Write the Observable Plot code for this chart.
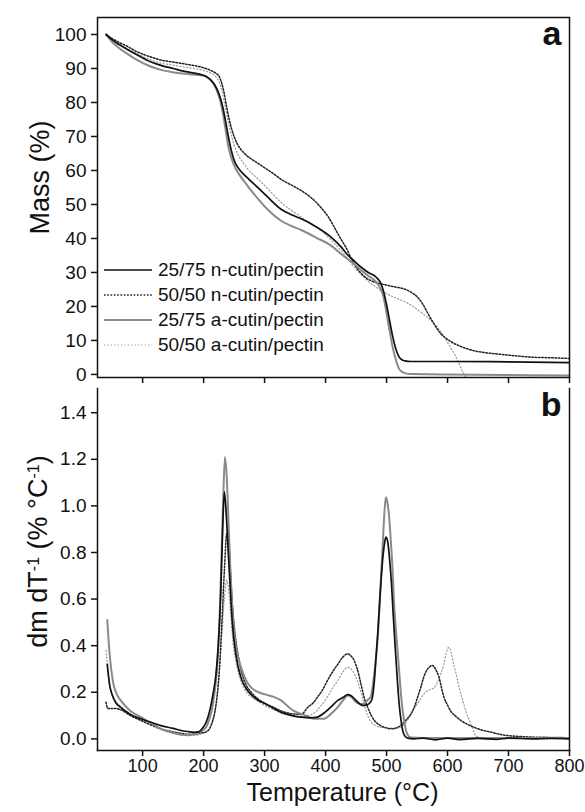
<!DOCTYPE html>
<html><head><meta charset="utf-8">
<script src="https://cdn.jsdelivr.net/npm/d3@7"></script>
<script src="https://cdn.jsdelivr.net/npm/@observablehq/plot@0.6"></script>
<style>
body{margin:0;background:#fff;}
#chart{position:relative;width:585px;height:812px;font-family:"Liberation Sans",Arial,sans-serif;color:#111;}
#top,#bottom{position:absolute;left:0;}
#top{top:0}
#bottom{top:386px}
#legend{position:absolute;left:104px;top:257px;font-size:19px;color:#111;}
#legend .row{height:25px;display:flex;align-items:center;white-space:nowrap;}
#legend .row svg{width:48px;height:10px;margin-right:6px;flex:none}
</style></head>
<body>
<div id="chart"><div id="top"></div><div id="bottom"></div><div id="legend"></div></div>
<script>
// ---- Labels & ticks ----
const seriesNames = ["25/75 n-cutin/pectin", "50/50 n-cutin/pectin", "25/75 a-cutin/pectin", "50/50 a-cutin/pectin"];
const xTicks = [100, 200, 300, 400, 500, 600, 700, 800];
const massTicks = [0, 10, 20, 30, 40, 50, 60, 70, 80, 90, 100];
const rateTicks = [0, 0.2, 0.4, 0.6, 0.8, 1.0, 1.2, 1.4];

// ---- (a) Mass (%) ----
const massT_A = [40,50,60,75,90,110,130,150,165,180,196,205,212,218,223,228,232,236,240,245,250,260,272,290,305,327,345,360,385,409,425,436,448,458,470,483,490,495,500,505,510,515,520,525,530,540,560,600,700,800];
const mass_A  = [100,98.5,97.2,95.6,94.1,92.2,90.9,90.0,89.3,88.8,88.2,87.6,86.6,85.2,83.5,81.0,78.2,74.5,70.5,66.2,63.0,60.0,57.8,54.8,52.2,48.6,46.9,45.8,43.4,40.4,37.6,35.2,33.2,31.6,30.0,28.6,27.0,24.5,20.5,15.8,11.2,7.6,5.3,4.3,4.0,3.8,3.8,3.8,3.7,3.5];

const massT_B = [40,50,60,75,90,110,130,150,170,196,212,220,226,230,234,238,242,246,250,255,262,272,285,300,315,327,345,360,375,392,405,414,422,430,436,441,448,458,468,480,492,502,515,528,540,551,560,568,578,589,600,611,625,643,662,682,710,736,770,800];
const mass_B  = [100,98.8,97.8,96.5,95.0,93.6,92.5,91.9,91.3,90.4,89.4,88.6,87.5,85.5,82.5,78.5,75.0,72.2,70.0,67.9,66.0,64.2,62.6,60.8,59.0,57.4,55.6,54.1,52.2,49.2,46.2,43.4,40.8,38.4,36.5,34.5,32.2,29.8,28.2,27.2,26.6,26.2,25.7,25.2,24.2,22.7,20.5,17.9,14.8,12.0,10.3,9.1,8.0,7.0,6.4,6.0,5.5,5.1,4.9,4.7];

const massT_C = [40,50,60,75,90,110,130,150,165,180,196,205,212,218,223,228,232,236,240,245,250,260,272,290,305,327,345,360,385,409,425,436,450,462,470,483,490,495,500,505,510,515,520,525,530,540,600,700,800];
const mass_C  = [100,97.8,96.2,94.3,92.6,90.8,89.6,88.9,88.5,88.2,88.0,87.5,86.5,85.0,83.0,80.0,76.5,72.0,67.5,64.0,61.5,58.4,55.5,51.5,48.5,45.2,43.6,42.5,40.2,37.9,35.5,34.0,32.0,30.1,29.0,27.2,25.3,22.8,18.0,12.8,8.0,4.5,1.8,0.8,0.4,0.1,0.0,-0.2,-0.3];

const massT_D = [40,50,60,75,90,110,130,150,170,196,212,220,226,230,234,238,242,246,250,256,264,272,285,300,327,360,392,425,447,469,491,505,518,532,545,560,573,585,595,603,611,618,625,632];
const mass_D  = [100,98.4,97.2,95.8,94.4,92.8,91.6,91.0,90.4,89.6,88.6,87.6,85.8,83.5,80.0,76.5,73.0,70.0,67.5,64.8,62.5,60.5,58.2,55.6,50.6,46.3,42.4,36.5,31.6,27.6,24.7,23.3,22.3,21.2,19.8,17.8,15.9,13.5,11.0,8.5,6.1,3.5,0.8,-1.5];

// ---- (b) dm/dT (% per °C) ----
const rateT_A = [42,46,50,56,64,80,97,115,130,150,163,175,184,192,198,204,210,216,220,224,228,231,234,237,240,243,247,253,261,270,278,290,302,315,327,345,360,375,385,397,408,420,430,436,442,450,456,461,466,471,476,480,483,486,489,491,494,497,499,502,505,508,511,514,518,521,524,527,530,535,545,560,580,600,620,650,680,700,740,770,800];
const rate_A  = [0.32,0.23,0.19,0.155,0.135,0.105,0.086,0.07,0.057,0.045,0.036,0.031,0.028,0.03,0.045,0.07,0.12,0.2,0.27,0.4,0.62,0.88,1.06,0.97,0.82,0.68,0.5,0.36,0.265,0.215,0.19,0.165,0.15,0.13,0.114,0.1,0.093,0.09,0.092,0.11,0.135,0.165,0.18,0.19,0.185,0.165,0.15,0.143,0.145,0.15,0.17,0.25,0.36,0.47,0.6,0.68,0.78,0.845,0.866,0.845,0.77,0.67,0.53,0.4,0.24,0.14,0.075,0.03,0.012,0.003,0.0,0.003,-0.004,0.003,-0.003,0.002,-0.002,0.003,0.0,0.002,0.0];

const rateT_B = [40,43,50,56,64,80,97,115,130,150,163,175,184,195,204,210,214,218,222,226,230,234,238,241,244,248,253,258,261,270,278,290,302,315,327,345,360,371,380,387,395,403,412,420,428,436,442,447,452,458,463,469,475,480,488,496,503,510,517,523,530,535,540,546,551,556,561,566,571,575,579,583,586,590,594,600,605,613,622,632,643,656,671,685,699,720,736,770,800];
const rate_B  = [0.157,0.13,0.13,0.13,0.125,0.1,0.079,0.058,0.043,0.03,0.024,0.02,0.02,0.025,0.03,0.045,0.07,0.11,0.18,0.3,0.5,0.72,0.88,0.85,0.72,0.55,0.42,0.34,0.3,0.23,0.2,0.17,0.15,0.135,0.12,0.108,0.105,0.136,0.155,0.18,0.21,0.25,0.29,0.32,0.35,0.365,0.355,0.336,0.3,0.236,0.18,0.136,0.1,0.079,0.06,0.05,0.045,0.043,0.048,0.057,0.075,0.09,0.107,0.14,0.18,0.22,0.265,0.295,0.31,0.315,0.305,0.285,0.265,0.22,0.18,0.145,0.12,0.098,0.079,0.063,0.05,0.038,0.029,0.02,0.014,0.01,0.008,0.006,0.005];

const rateT_C = [42,46,51,58,64,80,97,115,130,150,163,175,184,195,204,210,214,218,222,226,229,232,235,238,241,244,248,253,261,270,278,290,302,315,327,338,348,360,372,381,397,408,420,430,436,442,450,456,461,466,470,474,478,482,486,489,491,494,497,499,501,504,507,510,512,515,518,521,524,527,530,534,540,560,600,650,700,750,800];
const rate_C  = [0.51,0.36,0.25,0.19,0.165,0.12,0.093,0.066,0.043,0.025,0.018,0.016,0.02,0.03,0.05,0.09,0.13,0.2,0.3,0.5,0.75,1.02,1.21,1.12,0.92,0.72,0.52,0.4,0.31,0.25,0.22,0.2,0.19,0.18,0.165,0.14,0.12,0.107,0.095,0.086,0.086,0.105,0.136,0.17,0.186,0.18,0.157,0.15,0.15,0.158,0.17,0.18,0.24,0.33,0.45,0.6,0.7,0.85,0.99,1.037,1.02,0.96,0.85,0.72,0.6,0.48,0.38,0.28,0.18,0.11,0.06,0.02,0.006,0.004,0.004,0.004,0.004,0.004,0.004];

const rateT_D = [40,44,48,56,64,80,97,115,130,150,163,175,184,195,204,210,214,218,222,226,230,234,238,241,244,248,253,261,270,278,290,302,315,327,345,360,371,381,392,403,412,420,428,436,442,447,452,458,463,469,474,480,488,496,505,515,523,530,538,545,553,561,570,578,584,589,594,598,602,606,610,614,619,625,631,636,641,646,655,700,800];
const rate_D  = [0.38,0.27,0.2,0.16,0.14,0.105,0.08,0.058,0.04,0.025,0.018,0.015,0.015,0.02,0.03,0.045,0.07,0.11,0.18,0.3,0.45,0.6,0.68,0.64,0.55,0.42,0.33,0.25,0.2,0.18,0.16,0.14,0.125,0.11,0.1,0.095,0.1,0.11,0.14,0.18,0.22,0.25,0.285,0.307,0.3,0.28,0.25,0.2,0.15,0.1,0.075,0.06,0.05,0.048,0.046,0.046,0.05,0.065,0.095,0.129,0.16,0.193,0.21,0.22,0.245,0.28,0.32,0.37,0.393,0.37,0.32,0.28,0.22,0.165,0.11,0.079,0.045,0.014,0.006,0.005,0.005];

// ---- styles (not data) ----
const styles = [
  {stroke: "#111", strokeWidth: 1.7},
  {stroke: "#222", strokeWidth: 1.5, strokeDasharray: "1.6 1.7"},
  {stroke: "#8a8a8a", strokeWidth: 2},
  {stroke: "#9a9a9a", strokeWidth: 1.2, strokeDasharray: "1.2 2.2"}
];
const font = "'Liberation Sans', Arial, sans-serif";
const massSeries = [[massT_A, mass_A], [massT_B, mass_B], [massT_C, mass_C], [massT_D, mass_D]];
const rateSeries = [[rateT_A, rate_A], [rateT_B, rate_B], [rateT_C, rate_C], [rateT_D, rate_D]];
const drawOrder = [3, 1, 2, 0];

function lineMarks(series) {
  return drawOrder.map(i => Plot.line(series[i][0], {x: series[i][0], y: series[i][1], curve: "monotone-x", clip: true, ...styles[i]}));
}

const topPlot = Plot.plot({
  width: 585, height: 386,
  marginLeft: 97, marginRight: 16, marginTop: 17, marginBottom: 9,
  style: {fontFamily: font, fontSize: "19px", color: "#111", background: "transparent", overflow: "visible"},
  x: {domain: [26, 800]},
  y: {domain: [-0.9, 105]},
  marks: [
    ...lineMarks(massSeries),
    Plot.frame({stroke: "#111", strokeWidth: 1.5}),
    Plot.axisY({ticks: massTicks, tickSize: 6, tickPadding: 5, strokeWidth: 1.5, label: null}),
    Plot.axisX({ticks: xTicks, tickSize: 6, tickFormat: () => "", strokeWidth: 1.5, label: null}),
    Plot.text(["Mass (%)"], {frameAnchor: "left", rotate: -90, dx: -57, dy: -20, lineAnchor: "middle", textAnchor: "middle", fontSize: 27}),
    Plot.text(["a"], {frameAnchor: "top-right", dx: -8, dy: 27, lineAnchor: "bottom", textAnchor: "end", fontSize: 34, fontWeight: "bold"})
  ]
});
document.getElementById("top").appendChild(topPlot);

const rateLabel = "dm dT-1 (% °C-1)";
const bottomPlot = Plot.plot({
  width: 585, height: 426,
  marginLeft: 97, marginRight: 16, marginTop: 2, marginBottom: 62,
  style: {fontFamily: font, fontSize: "19px", color: "#111", background: "transparent", overflow: "visible"},
  x: {domain: [26, 800]},
  y: {domain: [-0.05, 1.504]},
  marks: [
    ...lineMarks(rateSeries),
    Plot.frame({anchor: "left", stroke: "#111", strokeWidth: 1.5}),
    Plot.frame({anchor: "right", stroke: "#111", strokeWidth: 1.5}),
    Plot.frame({anchor: "bottom", stroke: "#111", strokeWidth: 1.5}),
    Plot.axisY({ticks: rateTicks, tickSize: 6, tickPadding: 5, strokeWidth: 1.5, tickFormat: d3.format(".1f"), label: null}),
    Plot.axisX({ticks: xTicks, tickSize: 6, tickPadding: 3, strokeWidth: 1.5, fontSize: 18, label: null}),
    Plot.text(["Temperature (°C)"], {frameAnchor: "bottom", dx: 9, dy: 50, lineAnchor: "bottom", textAnchor: "middle", fontSize: 25}),
    Plot.text([rateLabel], {frameAnchor: "left", rotate: -90, dx: -59, dy: -18, lineAnchor: "middle", textAnchor: "middle", fontSize: 27}),
    Plot.text(["b"], {frameAnchor: "top-right", dx: -8, dy: 27, lineAnchor: "bottom", textAnchor: "end", fontSize: 34, fontWeight: "bold"})
  ]
});
document.getElementById("bottom").appendChild(bottomPlot);

// superscripts in the rate label
bottomPlot.querySelectorAll("text").forEach(t => {
  if (t.textContent === rateLabel) {
    const parts = ["dm dT", "-1", " (% °C", "-1", ")"];
    while (t.firstChild) t.removeChild(t.firstChild);
    parts.forEach((p, k) => {
      const ts = document.createElementNS("http://www.w3.org/2000/svg", "tspan");
      ts.textContent = p;
      if (k % 2 === 1) { ts.setAttribute("baseline-shift", "super"); ts.setAttribute("font-size", "16"); }
      t.appendChild(ts);
    });
  }
});

// legend
const legend = document.getElementById("legend");
seriesNames.forEach((name, i) => {
  const row = document.createElement("div");
  row.className = "row";
  const s = styles[i];
  row.innerHTML = `<svg viewBox="0 0 48 10"><line x1="0" x2="48" y1="5" y2="5" stroke="${s.stroke}" stroke-width="${s.strokeWidth}" ${s.strokeDasharray ? `stroke-dasharray="${s.strokeDasharray}"` : ""}/></svg><span>${name}</span>`;
  legend.appendChild(row);
});
</script>
</body></html>
